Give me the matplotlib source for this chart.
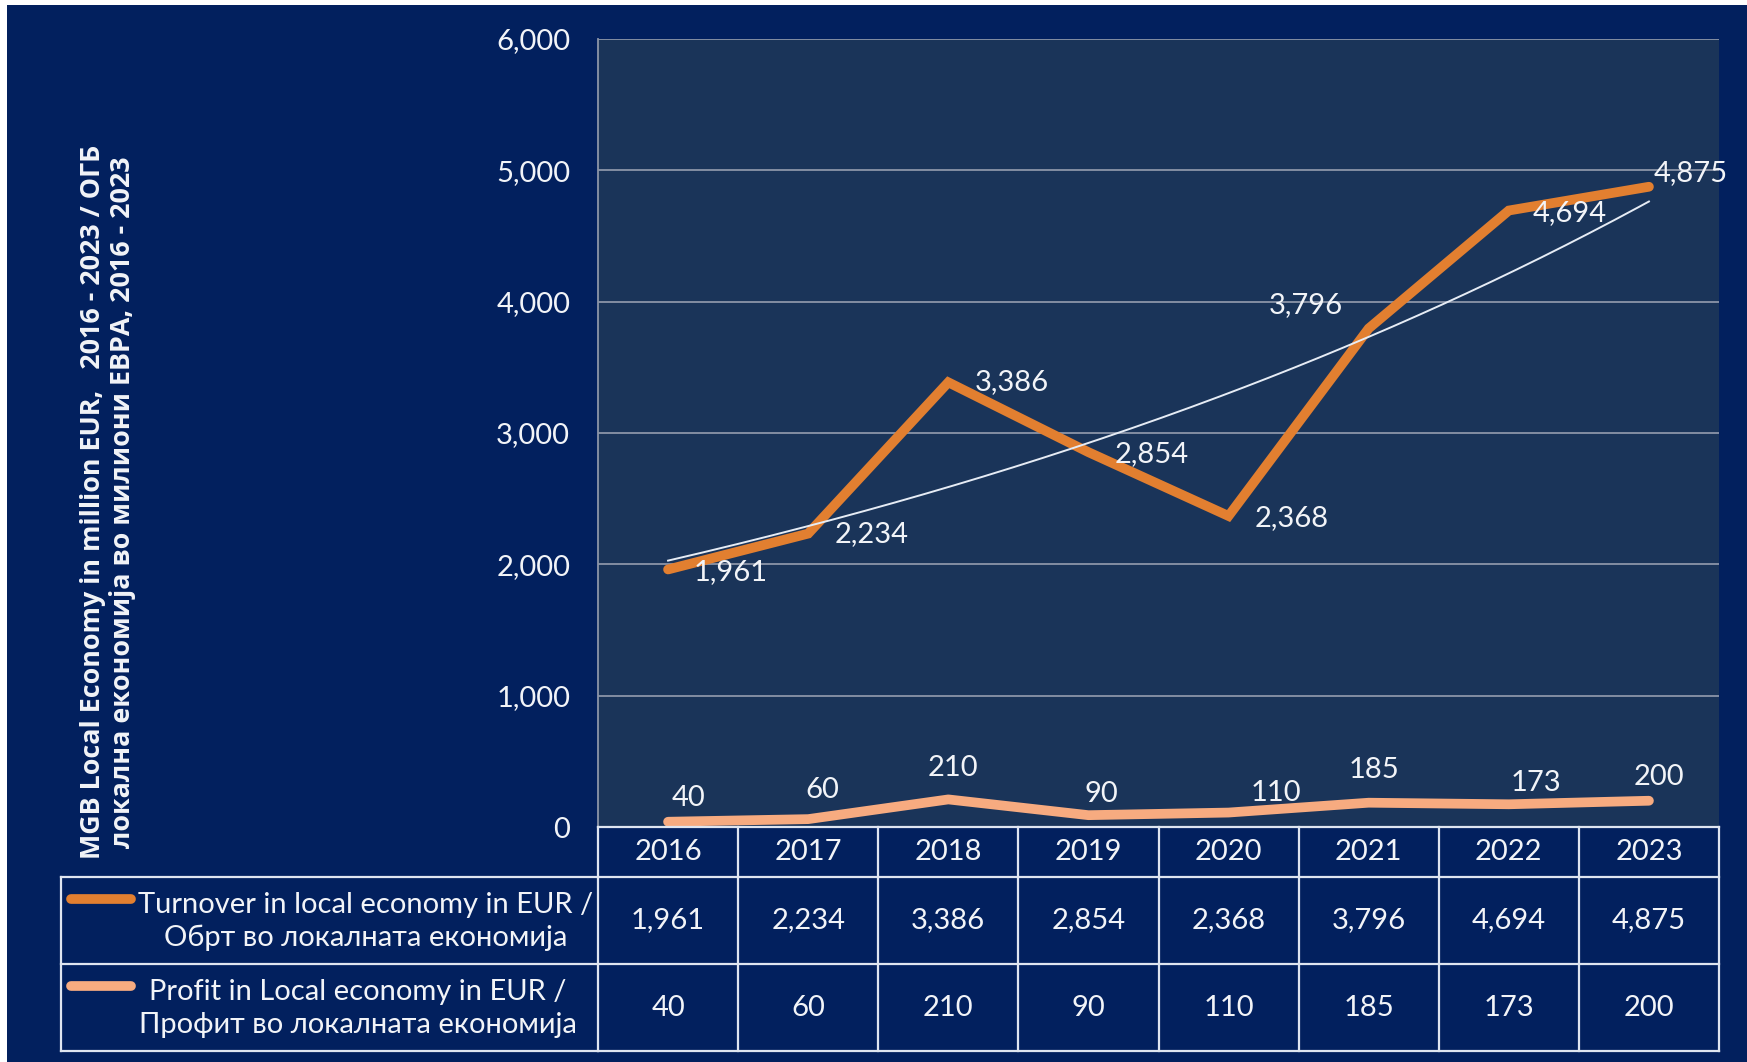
import numpy as np
import matplotlib
matplotlib.use("Agg")
import matplotlib.pyplot as plt
from matplotlib.patches import Rectangle

years = ["2016", "2017", "2018", "2019", "2020", "2021", "2022", "2023"]
turnover = [1961, 2234, 3386, 2854, 2368, 3796, 4694, 4875]
profit = [40, 60, 210, 90, 110, 185, 173, 200]
turnover_label = "Turnover in local economy in EUR /\nОбрт во локалната економија"
profit_label = "Profit in Local economy in EUR /\nПрофит во локалната економија"
ylabel = "MGB Local Economy in million EUR,   2016 - 2023 / ОГБ\nлокална економија во милиони ЕВРА, 2016 - 2023"
yticks = [0, 1000, 2000, 3000, 4000, 5000, 6000]

NAVY = "#02205e"
PLOT_BG = "#1a3459"
ORANGE = "#e27f30"
PEACH = "#f7ab80"
WHITE = "#f2f4f8"
GRID = "#8c95a8"
NARROW = ["Lato", "DejaVu Sans"]

W, H = 1747, 1062
fig = plt.figure(figsize=(W / 100, H / 100), dpi=100, facecolor="white")
fig.patches.append(Rectangle((7 / W, 0), 1 - 7 / W, 1 - 5 / H, transform=fig.transFigure,
                             facecolor=NAVY, edgecolor="none", zorder=-10))

L, R, T, B = 598, 1719, 39, 827
ax = fig.add_axes([L / W, 1 - B / H, (R - L) / W, (B - T) / H])
ax.set_facecolor(PLOT_BG)
x = np.arange(len(years))
ax.set_xlim(-0.5, len(years) - 0.5)
ax.set_ylim(0, 6000)
ax.set_yticks(yticks)
ax.set_yticklabels([f"{v:,}" for v in yticks], fontsize=21, color=WHITE, family=NARROW)
ax.tick_params(axis="y", length=0, pad=20)
ax.set_xticks([])
ax.grid(axis="y", color=GRID, linewidth=1.3)
ax.set_axisbelow(True)
for s in ["top", "right", "bottom"]:
    ax.spines[s].set_visible(False)
ax.spines["left"].set_color(GRID)
ax.spines["left"].set_linewidth(1.3)

# exponential trendline on turnover
coef = np.polyfit(x, np.log(turnover), 1)
xt = np.linspace(0, len(years) - 1, 200)
ax.plot(xt, np.exp(np.polyval(coef, xt)), color="#e6ecf5", lw=1.4, zorder=4)

ax.plot(x, turnover, color=ORANGE, lw=7, solid_capstyle="round", solid_joinstyle="miter", zorder=3)
ax.plot(x, profit, color=PEACH, lw=7, solid_capstyle="round", zorder=3)

t_off = [(26, -3, "left"), (26, 0, "left"), (26, 0, "left"), (26, -2, "left"),
         (26, -2, "left"), (-26, 23, "right"), (24, -3, "left"), (5, 14, "left")]
for xi, v, (dx, dy, ha) in zip(x, turnover, t_off):
    ax.annotate(f"{v:,}", (xi, v), xytext=(dx, dy), textcoords="offset pixels",
                ha=ha, va="center", fontsize=21, color=WHITE, family=NARROW,
                annotation_clip=False, zorder=5)
p_off = [(20, 24), (14, 29), (5, 31), (13, 21), (47, 20), (5, 33), (27, 21), (10, 24)]
for xi, v, (dx, dy) in zip(x, profit, p_off):
    ax.annotate(f"{v:,}", (xi, v), xytext=(dx, dy), textcoords="offset pixels",
                ha="center", va="center", fontsize=21, color=WHITE, family=NARROW,
                annotation_clip=False, zorder=5)

ax.set_ylabel(ylabel, fontsize=19.4, fontweight="bold", color=WHITE, linespacing=1.15,
              family=["Open Sans", "DejaVu Sans"])
ax.yaxis.set_label_coords((136 - L) / (R - L), (B - 502) / (B - T))

# data table below
TB = 1051
tax = fig.add_axes([L / W, 1 - TB / H, (R - L) / W, (TB - B) / H])
tax.set_xlim(-0.5, len(years) - 0.5)
tax.set_ylim(TB - B, 0)
tax.axis("off")
tax.patch.set_visible(False)
row_y = [0, 877 - B, 964 - B, TB - B]
LC = "#dfe5f0"
lw = 1.6
for i in range(len(years) + 1):
    tax.plot([i - 0.5, i - 0.5], [row_y[0], row_y[3]], color=LC, lw=lw, clip_on=False)
for yy in row_y:
    tax.plot([-0.5, len(years) - 0.5], [yy, yy], color=LC, lw=lw, clip_on=False)
# label column
px = (len(years)) / (R - L)
xl = -0.5 - (L - 61) * px
for yy in row_y[1:]:
    tax.plot([xl, -0.5], [yy, yy], color=LC, lw=lw, clip_on=False)
tax.plot([xl, xl], [row_y[1], row_y[3]], color=LC, lw=lw, clip_on=False)

for xi, yr in zip(x, years):
    tax.text(xi, (row_y[0] + row_y[1]) / 2, yr, ha="center", va="center",
             fontsize=21, color=WHITE, family=NARROW)
for xi, v in zip(x, turnover):
    tax.text(xi, (row_y[1] + row_y[2]) / 2, f"{v:,}", ha="center", va="center",
             fontsize=21, color=WHITE, family=NARROW)
for xi, v in zip(x, profit):
    tax.text(xi, (row_y[2] + row_y[3]) / 2, f"{v:,}", ha="center", va="center",
             fontsize=21, color=WHITE, family=NARROW)

for lab, col, r, cxp in [(turnover_label, ORANGE, 1, 366), (profit_label, PEACH, 2, 358)]:
    cx = -0.5 - (L - cxp) * px
    yc = (row_y[r] + row_y[r + 1]) / 2
    tax.text(cx, yc + 1, lab, ha="center", va="center", fontsize=21, color=WHITE,
             family=NARROW, linespacing=1.3, clip_on=False)
    ky = row_y[r] + 22
    tax.plot([xl + 10 * px, xl + 70 * px], [ky, ky], color=col, lw=7,
             solid_capstyle="round", clip_on=False)

fig.savefig("out.png", dpi=100, facecolor=fig.get_facecolor())
